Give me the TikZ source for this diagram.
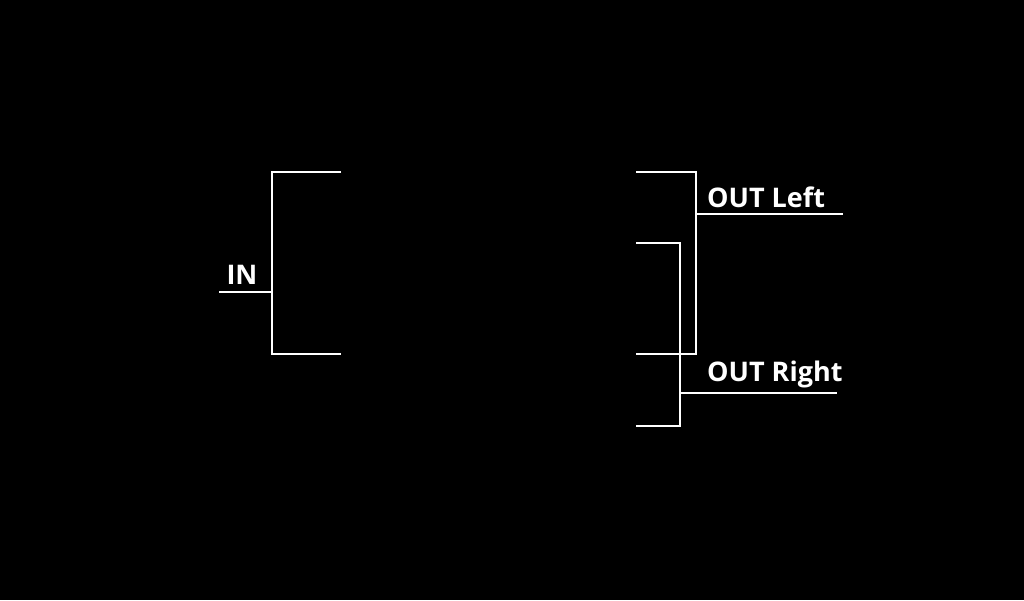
\documentclass[tikz,border=0pt]{standalone}
\usepackage{fontspec}
\setmainfont{Open Sans}
\usetikzlibrary{positioning}

\tikzset{
  wire/.style={draw=white, line width=2pt},
  lbl/.style={text=white, font=\fontsize{27}{33}\selectfont\bfseries, inner sep=0pt}
}

\begin{document}
\begin{tikzpicture}[x=1pt, y=-1pt]
            % Background
            \fill[black] (0,0) rectangle (1024,600);
            \useasboundingbox (0,0) rectangle (1024,600);

            % Points, input bracket
            \coordinate (inStart) at (219,292);
            \coordinate (inJoin) at (272,292);
            \coordinate (inTop) at (272,172);
            \coordinate (inBot) at (272,354);
            \coordinate (inTopEnd) at (341,172);
            \coordinate (inBotEnd) at (341,354);

            % Points, left output bracket
            \coordinate (leftTopEnd) at (636,172);
            \coordinate (leftTop) at (696,172);
            \coordinate (leftBot) at (696,354);
            \coordinate (leftBotEnd) at (636,354);
            \coordinate (leftJoin) at (696,214);
            \coordinate (leftEnd) at (843,214);

            % Points, right output bracket
            \coordinate (rightTopEnd) at (636,243);
            \coordinate (rightTop) at (680,243);
            \coordinate (rightBot) at (680,426);
            \coordinate (rightBotEnd) at (636,426);
            \coordinate (rightJoin) at (680,393);
            \coordinate (rightEnd) at (837,393);

            % Brackets
            \draw[wire] (inTopEnd) -- (inTop) -- (inBot) -- (inBotEnd);
            \draw[wire] (inStart) -- (inJoin);
            \draw[wire] (leftTopEnd) -- (leftTop) -- (leftBot) -- (leftBotEnd);
            \draw[wire] (leftJoin) -- (leftEnd);
            \draw[wire] (rightTopEnd) -- (rightTop) -- (rightBot) -- (rightBotEnd);
            \draw[wire] (rightJoin) -- (rightEnd);

            % Labels
            \node[lbl, anchor=base] (inLabel) at (242,284) {IN};
            \node[lbl, anchor=base west] (leftLabel) at (707,207) {OUT Left};
            \node[lbl, anchor=base west] (rightLabel) at (707,381) {OUT Right};
        \end{tikzpicture}
\end{document}
